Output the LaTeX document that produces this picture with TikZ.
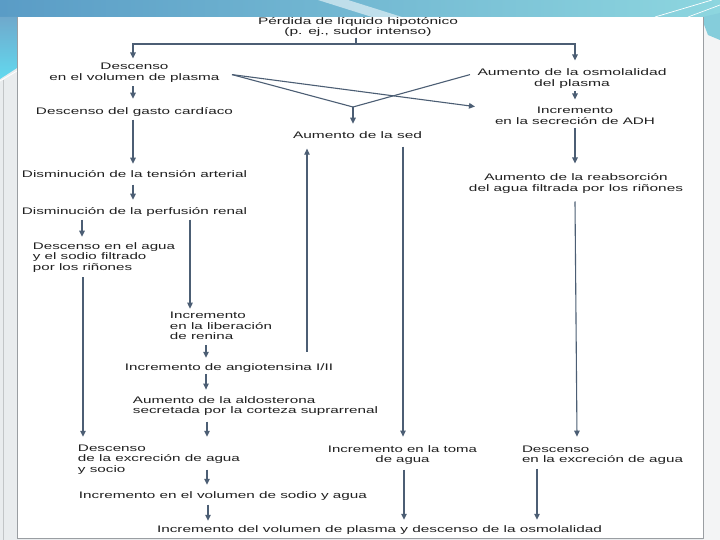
\documentclass[tikz,border=0pt]{standalone}
\usepackage{fontspec}
\setmainfont{Liberation Sans}
\usepackage{graphicx}
\usetikzlibrary{arrows.meta}
\definecolor{arrcol}{HTML}{4C5E74}
\definecolor{txtcol}{HTML}{202020}
\definecolor{bandL}{HTML}{5A9CC6}
\definecolor{bandR}{HTML}{8DD6DF}
\definecolor{tealA}{HTML}{6FA9CC}
\definecolor{tealB}{HTML}{62D9EF}
\definecolor{bggray}{HTML}{E9ECEE}
\definecolor{edgegray}{HTML}{9A9EA2}
\definecolor{rstrip}{HTML}{F3F4F5}
\newcommand{\tb}[3]{\resizebox{#1pt}{\height}{\begin{tabular}{@{}#2@{}}#3\end{tabular}}}
\tikzset{
  tx/.style={inner sep=0pt, outer sep=0pt, yshift=-2pt, text=txtcol, font=\fontsize{9.5}{10.5}\selectfont},
  ln/.style={draw=arrcol, line width=1.1pt},
  arr/.style={ln, -{Triangle[length=6pt,width=5.5pt]}}
}
\begin{document}
\begin{tikzpicture}[x=1pt,y=-1pt]
\useasboundingbox (0,0) rectangle (720,540);
% slide background
\fill[bggray] (0,0) rectangle (720,540);
\shade[left color=bandL, right color=bandR] (0,0) rectangle (720,17);
\fill[white, opacity=0.55] (318,0) -- (348,0) -- (402,17) -- (372,17) -- cycle;
\shade[top color=tealA, bottom color=tealB] (0,17) -- (17,17) -- (17,68) -- (0,79) -- cycle;
\draw[white, line width=0.8pt] (0,81) -- (17,71);
\fill[rstrip] (703,17) rectangle (720,540);
\fill[bandR!85!bandL] (703,17) -- (720,13) -- (720,40) -- (708,35) -- (703,22) -- cycle;
\draw[white, line width=0.7pt] (655,17) -- (712,0);
\draw[white, line width=0.7pt] (688,17) -- (720,5);
\fill[white] (17,17) rectangle (703,538);
\draw[edgegray, line width=0.9pt] (17,17) -- (17,538) -- (703,538) -- (703,17);
\draw[edgegray!60, line width=0.6pt] (3,80) -- (3,540);

% nodes
\node[tx] (perd)  at (358,25.5)  {\tb{200}{c}{Pérdida de líquido hipotónico\\(p. ej., sudor intenso)}};
\node[tx] (vol)   at (134.5,71)  {\tb{170}{c}{Descenso\\en el volumen de plasma}};
\node[tx] (osm)   at (572,77)    {\tb{189}{c}{Aumento de la osmolalidad\\del plasma}};
\node[tx] (gasto) at (134.5,110) {\tb{197}{c}{Descenso del gasto cardíaco}};
\node[tx] (adh)   at (575,115)   {\tb{160}{c}{Incremento\\en la secreción de ADH}};
\node[tx] (sed)   at (357.5,134) {\tb{129}{c}{Aumento de la sed}};
\node[tx] (reab)  at (576,182)   {\tb{214}{c}{Aumento de la reabsorción\\del agua filtrada por los riñones}};
\node[tx] (tens)  at (134.5,173) {\tb{225}{c}{Disminución de la tensión arterial}};
\node[tx] (perf)  at (134.5,210) {\tb{225}{c}{Disminución de la perfusión renal}};
\node[tx] (agua)  at (104,255.5) {\tb{142}{l}{Descenso en el agua\\y el sodio filtrado\\por los riñones}};
\node[tx] (ren)   at (221,325)   {\tb{102}{l}{Incremento\\en la liberación\\de renina}};
\node[tx] (ang)   at (229,366)   {\tb{208}{c}{Incremento de angiotensina I/II}};
\node[tx] (aldo)  at (255.5,404.5) {\tb{245}{l}{Aumento de la aldosterona\\secretada por la corteza suprarrenal}};
\node[tx] (exc)   at (159,457.5) {\tb{162}{l}{Descenso\\de la excreción de agua\\y socio}};
\node[tx] (toma)  at (402.5,453.5) {\tb{149}{c}{Incremento en la toma\\de agua}};
\node[tx] (excag) at (602.5,453.5) {\tb{161}{l}{Descenso\\en la excreción de agua}};
\node[tx] (vsod)  at (223,494)   {\tb{288}{c}{Incremento en el volumen de sodio y agua}};
\node[tx] (fin)   at (379.5,528) {\tb{445}{c}{Incremento del volumen de plasma y descenso de la osmolalidad}};

% connectors
\draw[ln] ([xshift=-2pt]perd.south) -- ([xshift=-2pt,yshift=-6pt]perd.south) coordinate (br);
\draw[arr] (br) -| ([xshift=-1.5pt,yshift=4pt]vol.north);
\draw[arr] (br) -| ([xshift=3pt,yshift=8pt]osm.north);
\draw[arr] ([xshift=-1.5pt,yshift=-3pt]vol.south) -- ([xshift=-1.5pt,yshift=8pt]gasto.north);
\draw[arr] ([xshift=-1.5pt,yshift=-2.4pt]gasto.south) -- ([xshift=-1.5pt,yshift=6pt]tens.north);
\draw[arr] ([xshift=-1.5pt,yshift=-4.4pt]tens.south) -- ([xshift=-1.5pt,yshift=7pt]perf.north);
\draw[arr] ([xshift=-52.5pt,yshift=-2.4pt]perf.south) -- ([xshift=-22pt,yshift=5pt]agua.north);
\draw[arr] ([xshift=55.5pt,yshift=-2.4pt]perf.south) -- ([xshift=-31pt,yshift=2.6pt]ren.north);
\draw[arr] ([xshift=-15pt,yshift=-2pt]ren.south) -- ([xshift=-23pt,yshift=5pt]ang.north);
\draw[arr] ([xshift=-23pt,yshift=-0.5pt]ang.south) -- ([xshift=-49.5pt,yshift=6.4pt]aldo.north);
\draw[arr] ([xshift=-48.5pt,yshift=-4.6pt]aldo.south) -- ([xshift=48pt,yshift=7pt]exc.north);
\draw[arr] ([xshift=-21pt,yshift=-3.8pt]agua.south) -- ([xshift=-76pt,yshift=7pt]exc.north);
\draw[arr] ([xshift=48pt,yshift=5.6pt]exc.south) -- ([xshift=-16pt,yshift=6pt]vsod.north);
\draw[arr] ([xshift=-15pt,yshift=-3.4pt]vsod.south) -- ([xshift=-171.5pt,yshift=4pt]fin.north);
\draw[arr] ([xshift=78pt,yshift=11pt]ang.north) -- ([xshift=-50.5pt,yshift=-7.4pt]sed.south);
\draw[arr] ([xshift=45.5pt,yshift=-5.4pt]sed.south) -- ([xshift=0.5pt,yshift=8.4pt]toma.north);
\draw[arr] ([xshift=1.5pt,yshift=-3.6pt]toma.south) -- ([xshift=24.5pt,yshift=5pt]fin.north);
\draw[arr] ([xshift=-65.5pt,yshift=-2.6pt]excag.south) -- ([xshift=157.5pt,yshift=5pt]fin.north);
\draw[arr] ([xshift=3pt,yshift=-2pt]osm.south) -- ([yshift=7pt]adh.north);
\draw[arr] ([yshift=-1pt]adh.south) -- ([xshift=-1pt,yshift=10pt]reab.north);
\draw[arr] ([xshift=-1pt,yshift=-7pt]reab.south) -- ([xshift=-25.5pt,yshift=8.4pt]excag.north);
\coordinate (vj) at (353,107);
\draw[ln] ([xshift=12.5pt,yshift=-1.6pt]vol.east) coordinate (vs) -- (vj);
\draw[ln] ([xshift=-7.5pt,yshift=4.4pt]osm.west) -- (vj);
\draw[arr] (vj) -- ([xshift=-4.5pt,yshift=7pt]sed.north);
\draw[arr] (vs) -- ([xshift=-20pt,yshift=10.4pt]adh.west);
\end{tikzpicture}
\end{document}
